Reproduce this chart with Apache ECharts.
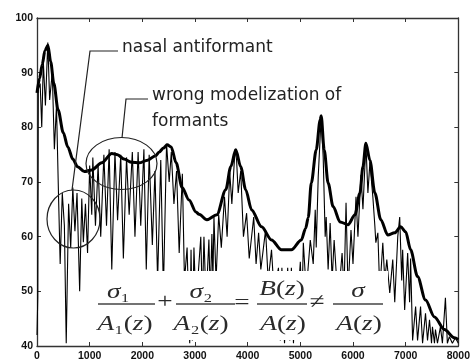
<!DOCTYPE html>
<html>
<head>
<meta charset="utf-8">
<script src="https://cdn.jsdelivr.net/npm/echarts@6/dist/echarts.min.js"></script>
<style>html,body{margin:0;padding:0;background:#fff;}#c{width:473px;height:363px;}</style>
</head>
<body>
<div id="c"></div>
<script>
// ---- data ----
const xTicks = [0,1000,2000,3000,4000,5000,6000,7000,8000];
const yTicks = [40,50,60,70,80,90,100];

// thin line: measured spectrum (Hz, dB)
const specFreq = [0,15,25,60,90,120,160,205,240,290,330,370,410,440,480,520,555,600,640,680,720,760,810,850,880,920,960,1000,1040,
 1060,1110,1160,1210,1270,1320,1370,1420,1480,1530,1590,1640,1700,1750,1810,1860,1920,1970,2030,2075,2130,2190,2240,2290,2350,2400,2460,2510,2550,2600,
 2650,2700,2760,2800,2850,2900,2925,2950,2980,3020,3060,3110,3140,3170,3210,3264,3290,3321,3340,
 3360,3400,3450,3500,3560,3610,3660,3700,3760,3790,3820,3868,3920,
 3980,4030,4115,4160,4208,4250,4300,4340,4390,4453,4500,4585,4620,4650,4700,4760,4800,4830,4870,4920,
 4950,5000,5030,5057,5113,5189,5245,5283,5302,5340,5396,5434,5472,5491,5528,5566,5604,5642,5717,5793,5830,5868,5906,5962,6000,6057,6094,6151,6189,6245,6283,6321,6377,6415,6434,6472,6509,6566,6604,6642,6698,6755,6793,6850,6887,6925,6943,6981,7038,7075,7094,7132,7189,7226,7283,7321,7377,7415,7453,7491,7509,7547,7566,7604,7660,7698,7755,7792,7830,7887,7943,8000];
const specDb = [42,49,87,88,80,92,84,95.5,85,90,76,84,67,55,68,62,40.5,66,58,69,61,68,50,67,59,66,57,73,64,
 74.5,62,73,60,75,62,76,54,75.5,63,75,56,74.5,64,75.5,60,75.5,62,76,54,75,58.5,72,52,74,50,77,70,75.5,66,
 72,57,71.5,52,58,40.5,57.6,41,58,47,53,60,48,60,48,59.5,49,60.5,52,
 63.6,52,64,58,67.3,60,71.7,66,76,74,68,72,60,
 64.3,56,63.6,55,60.7,54,58,61.2,52,57.6,50,54.3,41,54.3,40.5,54.3,41,54.3,40.5,53,
 48,55.4,47,58.9,50,59.4,55,64.9,58,71,82,74.6,60,63.6,54,62.5,52,59.4,48,57,50,66.2,50,61.2,55,67.3,60,71.3,65,77.1,68,73.5,67.3,62,58.9,60.7,50,58.9,52,55.8,49.7,55.8,48,60,63.6,52,57.6,46.6,57,48,56,41,47.2,41,47.2,40.5,46,41,44.8,40.5,43.5,40.5,43,40.5,43.5,40.5,48.8,40.5,41.7,40.5,41.5,40.5];

// thick line: LPC envelope (Hz, dB)
const envFreq = [0,50,100,150,207,260,320,400,500,585,680,770,900,1040,1230,1420,1530,1650,1800,1940,2100,2250,2321,2400,2472,2547,2642,2755,2887,3019,3076,3226,3415,3585,3679,3774,3868,3962,4075,4264,4453,4642,4830,5019,5100,5151,5208,5302,5377,5396,5453,5528,5623,5755,5906,6038,6132,6189,6245,6321,6415,6528,6660,6792,6906,7000,7094,7226,7377,7547,7736,7925,8000];
const envDb = [86.3,89,91.5,94,95,92,88,83.2,79,76.4,74.2,72.8,71.9,72.2,73.5,75.2,75,74.2,73.6,73.5,74,74.8,75.5,76.2,76.8,76.4,73.5,69,66.7,64.5,64.1,63.1,64,68.6,72.8,75.9,72.8,68.6,64.9,61.8,59.4,57.6,57.6,59.4,61.5,63.5,69.8,75.9,81.4,82.1,75.9,69.8,65.5,62.7,62.2,64,68,72.8,77.1,74,68,63.1,60.3,60.7,61.8,60.9,57.6,52.7,48.4,45.3,43,41.5,41.2];

const spec = specFreq.map((f,i)=>[f,specDb[i]]);
const env = envFreq.map((f,i)=>[f,envDb[i]]);

const chart = echarts.init(document.getElementById('c'), null, {renderer:'canvas'});
const axisCol = '#333';
const lblStyle = {fontSize:10.5, fontWeight:'bold', color:'#111', fontFamily:'Liberation Sans'};
const serif = 'Liberation Serif';
const fcol = '#2a2a2a';
const rich = {
  i:{fontFamily:serif, fontStyle:'italic', fontSize:21, fill:fcol, color:fcol},
  n:{fontFamily:serif, fontSize:21, fill:fcol, color:fcol}
};
function ftext(x,y,t,sx){
  return {type:'text', x:x, y:y, scaleX:sx||1.3, z:100,
    style:{text:t, rich:rich, align:'center', verticalAlign:'middle', textAlign:'center', textVerticalAlign:'middle', fill:fcol}};
}
function fline(x1,x2,y){
  return {type:'line', z:100, shape:{x1:x1,y1:y,x2:x2,y2:y}, style:{stroke:'#444', lineWidth:1.3}};
}
const annoFont = '17px "DejaVu Sans"';
function atext(x,y,t){
  return {type:'text', x:x, y:y, z:100, style:{text:t, font:annoFont, fill:'#222', align:'left', verticalAlign:'middle', textAlign:'left', textVerticalAlign:'middle'}};
}

chart.setOption({
  animation:false,
  backgroundColor:'#fff',
  grid:{left:37, top:18, width:424, height:328, show:false},
  xAxis:[
    {type:'value', min:0, max:8000, interval:1000, position:'bottom',
     axisLine:{show:true, onZero:false, lineStyle:{color:axisCol, width:1.3}},
     axisTick:{show:true, inside:true, length:4, lineStyle:{color:axisCol}},
     axisLabel:Object.assign({margin:5, formatter:v=>String(v)}, lblStyle),
     splitLine:{show:false}},
    {type:'value', min:0, max:8000, interval:1000, position:'top',
     axisLine:{show:true, onZero:false, lineStyle:{color:axisCol, width:1.3}},
     axisTick:{show:true, inside:true, length:4, lineStyle:{color:axisCol}},
     axisLabel:{show:false}, splitLine:{show:false}}
  ],
  yAxis:[
    {type:'value', min:40, max:100, interval:10, position:'left',
     axisLine:{show:true, onZero:false, lineStyle:{color:axisCol, width:1.3}},
     axisTick:{show:true, inside:true, length:4, lineStyle:{color:axisCol}},
     axisLabel:Object.assign({margin:4}, lblStyle),
     splitLine:{show:false}},
    {type:'value', min:40, max:100, interval:10, position:'right',
     axisLine:{show:true, onZero:false, lineStyle:{color:axisCol, width:1.3}},
     axisTick:{show:true, inside:true, length:4, lineStyle:{color:axisCol}},
     axisLabel:{show:false}, splitLine:{show:false}}
  ],
  series:[
    {type:'line', data:spec, symbol:'none', silent:true, z:2,
     lineStyle:{color:'#000', width:1.1}},
    {type:'line', data:env, symbol:'none', silent:true, z:3, smooth:0.3, smoothMonotone:'x',
     lineStyle:{color:'#000', width:3}}
  ],
  graphic:{elements:[
    {type:'rect', z:99, shape:{x:96, y:271, width:292, height:69}, style:{fill:'#fff'}},
    // formula
    ftext(118.5,292,'{i|σ}{n|₁}'),
    fline(98,155,304),
    ftext(125,324,'{i|A}{n|₁(}{i|z}{n|)}'),
    ftext(165,302,'{n|+}'),
    ftext(201,292,'{i|σ}{n|₂}'),
    fline(176,235,304),
    ftext(201,324,'{i|A}{n|₂(}{i|z}{n|)}'),
    ftext(242,303,'{n|=}'),
    ftext(282,289,'{i|B}{n|(}{i|z}{n|)}'),
    fline(257,307,304),
    ftext(283,324,'{i|A}{n|(}{i|z}{n|)}'),
    ftext(317,302,'{n|≠}'),
    ftext(358,291,'{i|σ}'),
    fline(333,383,304),
    ftext(359,324,'{i|A}{n|(}{i|z}{n|)}'),
    // annotations
    atext(122,48,'nasal antiformant'),
    atext(152,96,'wrong modelization of'),
    atext(152,122,'formants'),
    {type:'polyline', z:100, shape:{points:[[118,51],[90,51],[72,190]]}, style:{stroke:'#222', lineWidth:1.2, fill:'none'}},
    {type:'polyline', z:100, shape:{points:[[148,99],[126,99],[122,138]]}, style:{stroke:'#222', lineWidth:1.2, fill:'none'}},
    {type:'ellipse', z:100, shape:{cx:121.5, cy:163.5, rx:35.5, ry:26}, style:{stroke:'#222', lineWidth:1.2, fill:'none'}},
    {type:'ellipse', z:100, shape:{cx:73.5, cy:219, rx:26.5, ry:29}, style:{stroke:'#222', lineWidth:1.2, fill:'none'}}
  ]}
});
</script>
</body>
</html>
